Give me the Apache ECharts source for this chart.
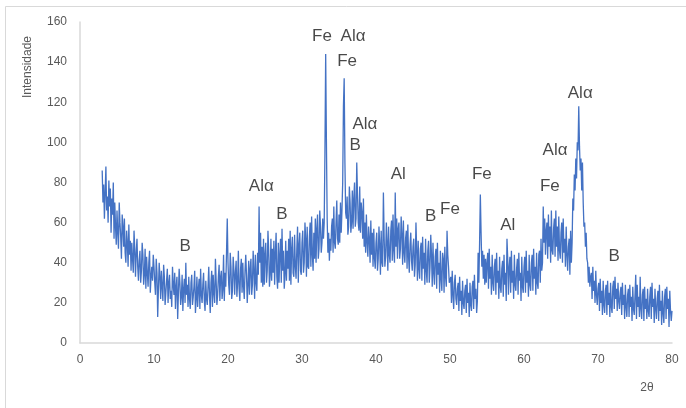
<!DOCTYPE html>
<html>
<head>
<meta charset="utf-8">
<script src="https://cdn.jsdelivr.net/npm/echarts@6/dist/echarts.min.js"></script>
<style>
  html, body { margin: 0; padding: 0; background: #fff; }
  #chart { width: 686px; height: 408px; }
</style>
</head>
<body>
<div id="chart"></div>
<script>
    // difratograma: intensidade por passo de 0.1 grau (2θ), de 3.0 a 80.0
    var startAngle = 3.0;
    var stepAngle = 0.1;

    var int03_09 = [
        86, 70, 79, 62, 75, 88, 66, 73, 60, 81,
        68, 77, 55, 72, 64, 80, 52, 70, 58, 49,
        66, 55, 47, 70, 60, 53, 42, 64, 58, 48,
        62, 45, 40, 56, 50, 38, 59, 44, 51, 36,
        50, 42, 35, 56, 47, 33, 45, 52, 38, 31,
        41, 46, 30, 36, 50, 44, 29, 34, 47, 27,
        43, 35, 28, 40, 46, 25, 33, 38, 31, 44
    ];
    var int10_19 = [
        38, 30, 24, 42, 35, 13, 27, 40, 33, 22,
        36, 28, 21, 39, 33, 19, 25, 31, 37, 20,
        30, 34, 22, 26, 18, 38, 29, 24, 35, 17,
        28, 33, 12, 25, 37, 30, 19, 23, 34, 16,
        27, 32, 20, 40, 24, 29, 18, 33, 22, 17,
        30, 34, 19, 23, 28, 36, 15, 22, 33, 18,
        27, 32, 17, 37, 24, 20, 29, 35, 21, 16,
        31, 22, 19, 28, 38, 24, 15, 30, 36, 18,
        34, 25, 20, 42, 31, 19, 24, 33, 39, 21,
        33, 36, 22, 27, 44, 21, 35, 28, 45, 62
    ];
    var int20_29 = [
        40, 29, 24, 45, 38, 22, 26, 43, 36, 24,
        35, 41, 23, 30, 46, 27, 21, 37, 42, 25,
        40, 28, 22, 36, 44, 34, 20, 29, 41, 24,
        37, 42, 24, 29, 46, 36, 22, 44, 30, 26,
        45, 34, 68, 40, 55, 30, 48, 28, 52, 29,
        44, 50, 30, 36, 56, 46, 28, 34, 52, 31,
        47, 35, 51, 29, 45, 55, 33, 27, 50, 30,
        44, 52, 30, 57, 36, 46, 27, 34, 51, 31,
        46, 37, 52, 31, 56, 29, 47, 53, 35, 33,
        54, 38, 32, 47, 58, 30, 49, 55, 36, 34
    ];
    var int30_39 = [
        50, 56, 35, 40, 60, 52, 33, 58, 38, 37,
        53, 60, 38, 63, 44, 36, 55, 42, 62, 40,
        57, 64, 42, 47, 66, 58, 45, 50, 62, 52,
        60, 95, 144, 100, 62, 45, 55, 41, 52, 46,
        58, 62, 45, 68, 50, 47, 60, 71, 52, 49,
        64, 50, 70, 55, 66, 80, 118, 132, 90, 65,
        62, 73, 54, 58, 78, 70, 55, 60, 76, 57,
        72, 80, 58, 62, 90, 74, 60, 56, 78, 55,
        70, 65, 52, 72, 48, 60, 45, 64, 50, 43,
        58, 52, 40, 61, 44, 55, 38, 57, 42, 37
    ];
    var int40_49 = [
        50, 55, 36, 42, 58, 49, 34, 56, 40, 38,
        75, 53, 38, 43, 60, 50, 36, 58, 44, 40,
        56, 61, 41, 64, 46, 40, 75, 48, 62, 42,
        57, 60, 42, 47, 63, 54, 39, 61, 45, 40,
        52, 56, 37, 59, 43, 35, 49, 55, 41, 36,
        48, 52, 33, 39, 60, 46, 31, 51, 37, 32,
        47, 50, 31, 53, 37, 45, 29, 52, 36, 30,
        46, 51, 30, 38, 54, 44, 28, 50, 35, 29,
        43, 47, 27, 50, 34, 40, 25, 46, 32, 26,
        45, 42, 25, 48, 33, 28, 56, 44, 38, 30
    ];
    var int50_59 = [
        31, 33, 20, 36, 24, 17, 30, 34, 22, 19,
        27, 30, 16, 33, 21, 26, 14, 31, 20, 17,
        26, 29, 15, 32, 20, 25, 13, 30, 19, 16,
        28, 31, 17, 34, 22, 27, 15, 21, 45, 30,
        50, 74, 55, 38, 46, 32, 44, 29, 42, 30,
        40, 45, 27, 47, 32, 38, 24, 44, 30, 26,
        38, 42, 24, 45, 30, 36, 22, 43, 28, 25,
        37, 41, 23, 44, 29, 35, 21, 52, 42, 24,
        38, 43, 25, 46, 30, 36, 22, 44, 29, 26,
        37, 42, 24, 45, 31, 35, 21, 43, 28, 25
    ];
    var int60_69 = [
        38, 43, 25, 46, 30, 36, 23, 44, 29, 26,
        40, 44, 26, 47, 32, 38, 24, 45, 30, 27,
        44, 46, 30, 52, 36, 40, 68, 50, 62, 44,
        56, 60, 42, 64, 48, 58, 40, 66, 46, 44,
        57, 62, 43, 66, 48, 58, 41, 63, 46, 42,
        55, 60, 40, 62, 45, 52, 38, 58, 44, 36,
        48, 52, 34, 56, 40, 50, 72, 66, 84, 76,
        92, 82, 100, 96, 118, 98, 86, 92, 76, 90,
        70, 58, 60, 48, 55, 42, 40, 30, 38, 28,
        33, 35, 22, 38, 26, 31, 20, 36, 24, 19
    ];
    var int70_80 = [
        27, 30, 16, 32, 20, 26, 14, 31, 19, 15,
        26, 29, 14, 31, 19, 25, 13, 30, 18, 15,
        28, 31, 17, 33, 22, 27, 16, 30, 21, 17,
        25, 28, 14, 30, 19, 24, 12, 29, 18, 13,
        24, 27, 13, 29, 18, 23, 11, 28, 17, 14,
        24, 34, 12, 29, 18, 23, 13, 33, 17, 12,
        24, 27, 11, 28, 17, 22, 12, 27, 16, 13,
        23, 28, 12, 30, 18, 22, 10, 27, 17, 12,
        22, 26, 11, 29, 16, 21, 9, 26, 15, 10,
        23, 27, 12, 28, 17, 22, 8, 26, 16, 11,
        16
    ];

    // identificacao das fases: [2θ, intensidade, rotulo]
    var phaseLabels = [
        [32.7, 153, 'Fe'], [36.9, 153, 'Alα'], [36.1, 140.5, 'Fe'],
        [38.5, 109, 'Alα'], [37.2, 98.5, 'B'], [43.0, 84, 'Al'],
        [24.5, 78, 'Alα'], [27.3, 64, 'B'], [14.2, 48, 'B'],
        [47.4, 63, 'B'], [50.0, 66.5, 'Fe'], [54.3, 84, 'Fe'],
        [57.8, 58.5, 'Al'], [63.5, 78, 'Fe'], [64.2, 96, 'Alα'],
        [67.6, 124.5, 'Alα'], [72.2, 43, 'B']
    ];

    var xTicks = [0, 10, 20, 30, 40, 50, 60, 70, 80];
    var yTicks = [0, 20, 40, 60, 80, 100, 120, 140, 160];

    var intensidade = [].concat(int03_09, int10_19, int20_29, int30_39,
        int40_49, int50_59, int60_69, int70_80);
    var points = intensidade.map(function (v, i) {
        return [Math.round((startAngle + i * stepAngle) * 10) / 10, v];
    });

    var axisFont = { color: '#595959', fontSize: 12, fontFamily: 'Liberation Sans, Arial, sans-serif' };

    var option = {
        animation: false,
        backgroundColor: '#fff',
        grid: { left: 80, right: 14, top: 22, bottom: 65, containLabel: false },
        xAxis: {
            type: 'value',
            min: xTicks[0],
            max: xTicks[xTicks.length - 1],
            interval: xTicks[1] - xTicks[0],
            axisLine: { lineStyle: { color: '#d9d9d9', width: 1.5 } },
            axisTick: { show: false },
            splitLine: { show: false },
            axisLabel: Object.assign({ margin: 11 }, axisFont)
        },
        yAxis: {
            type: 'value',
            min: yTicks[0],
            max: yTicks[yTicks.length - 1],
            interval: yTicks[1] - yTicks[0],
            axisLine: { show: true, lineStyle: { color: '#d9d9d9', width: 1.5 } },
            axisTick: { show: false },
            splitLine: { show: false },
            axisLabel: Object.assign({ margin: 13 }, axisFont)
        },
        graphic: [
            {
                type: 'rect', silent: true,
                shape: { x: 5.5, y: 6.5, width: 720, height: 440 },
                style: { fill: 'none', stroke: '#d9d9d9', lineWidth: 1 }
            },
            {
                type: 'text', x: 28, y: 67, rotation: Math.PI / 2,
                style: {
                    text: 'Intensidade', fill: '#595959', fontSize: 12,
                    fontFamily: 'Liberation Sans, Arial, sans-serif',
                    align: 'center', verticalAlign: 'middle'
                }
            },
            {
                type: 'text', x: 647, y: 388,
                style: {
                    text: '2θ', fill: '#595959', fontSize: 12,
                    fontFamily: 'Liberation Sans, Arial, sans-serif',
                    align: 'center', verticalAlign: 'middle'
                }
            }
        ],
        series: [
            {
                type: 'line',
                data: points,
                showSymbol: false,
                smooth: false,
                lineStyle: { color: '#4472C4', width: 1.3 },
                z: 2
            },
            {
                type: 'scatter',
                data: phaseLabels,
                symbolSize: 0,
                silent: true,
                z: 3,
                label: {
                    show: true,
                    position: 'inside',
                    formatter: function (p) { return p.data[2]; },
                    color: '#1a1a1a',
                    fontSize: 17,
                    fontFamily: 'Liberation Sans, Arial, sans-serif'
                }
            }
        ]
    };

    var myChart = echarts.init(document.getElementById('chart'));
    myChart.setOption(option);
</script>
</body>
</html>
